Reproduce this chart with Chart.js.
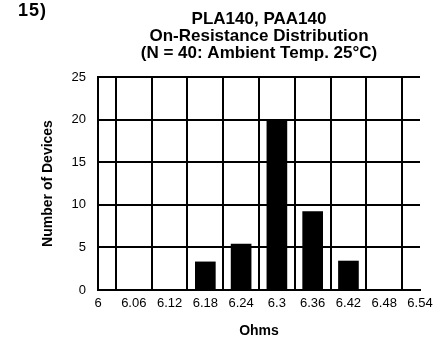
<!DOCTYPE html>
<html>
<head>
<meta charset="utf-8">
<script src="https://cdn.jsdelivr.net/npm/chart.js@4"></script>
<style>
  body { margin: 0; background: #fff; }
  #wrap { position: relative; width: 444px; height: 344px; }
  #fig { position: absolute; left: 18px; top: 0px; font: bold 18px "Liberation Sans", Arial, sans-serif; letter-spacing: 1px; color: #000; }
</style>
</head>
<body>
<div id="wrap">
  <div id="fig">15)</div>
  <canvas id="distChart" width="444" height="344"></canvas>
</div>
<script>
// on-resistance bins (ohms) and device counts
const ohmLabels = ['6', '6.06', '6.12', '6.18', '6.24', '6.3', '6.36', '6.42', '6.48', '6.54'];
const deviceCounts = [0, 0, 0, 3.3, 5.4, 20, 9.2, 3.4, 0, 0];
const titleLines = ['PLA140, PAA140', 'On-Resistance Distribution', '(N = 40: Ambient Temp. 25°C)'];

const FONT = '"Liberation Sans", Arial, sans-serif';

const ctx = document.getElementById('distChart').getContext('2d');

const distChart = new Chart(ctx, {
    type: 'bar',
    data: {
        labels: ohmLabels,
        datasets: [{
            label: 'Number of Devices',
            data: deviceCounts,
            backgroundColor: '#000',
            barThickness: 20
        }]
    },
    options: {
        responsive: false,
        animation: false,
        layout: { padding: { left: 0, right: 24, top: 0, bottom: 0 } },
        plugins: {
            legend: { display: false },
            tooltip: { enabled: false },
            title: {
                display: true,
                fullSize: false,
                text: titleLines,
                color: '#000',
                font: { family: FONT, size: 17, weight: 'bold', lineHeight: 1.0 },
                padding: { top: 11, bottom: 15 }
            }
        },
        scales: {
            x: {
                type: 'category',
                offset: false,
                grid: { color: '#000', lineWidth: 2, drawTicks: false },
                border: { color: '#000', width: 2 },
                ticks: {
                    color: '#000',
                    autoSkip: false,
                    maxRotation: 0,
                    padding: 6,
                    font: { family: FONT, size: 13 }
                },
                title: {
                    display: true,
                    text: 'Ohms',
                    color: '#000',
                    font: { family: FONT, size: 14, weight: 'bold' },
                    padding: { top: 0, bottom: 4 }
                },
                afterFit: function (scale) {
                    scale.height = 54;
                    // keep the plot right edge at the last tick like the original
                    scale.paddingLeft = 0;
                    scale.paddingRight = 0;
                }
            },
            y: {
                min: 0,
                max: 25,
                grid: { color: '#000', lineWidth: 2, drawTicks: false },
                border: { color: '#000', width: 2 },
                ticks: {
                    stepSize: 5,
                    color: '#000',
                    padding: 12,
                    font: { family: FONT, size: 13 }
                },
                title: {
                    display: true,
                    text: 'Number of Devices',
                    color: '#000',
                    font: { family: FONT, size: 14, weight: 'bold' },
                    padding: { top: 40, bottom: 0 }
                },
                afterFit: function (scale) {
                    scale.width = 98;
                    scale.paddingTop = 0;
                    scale.paddingBottom = 0;
                }
            }
        }
    }
});
</script>
</body>
</html>
